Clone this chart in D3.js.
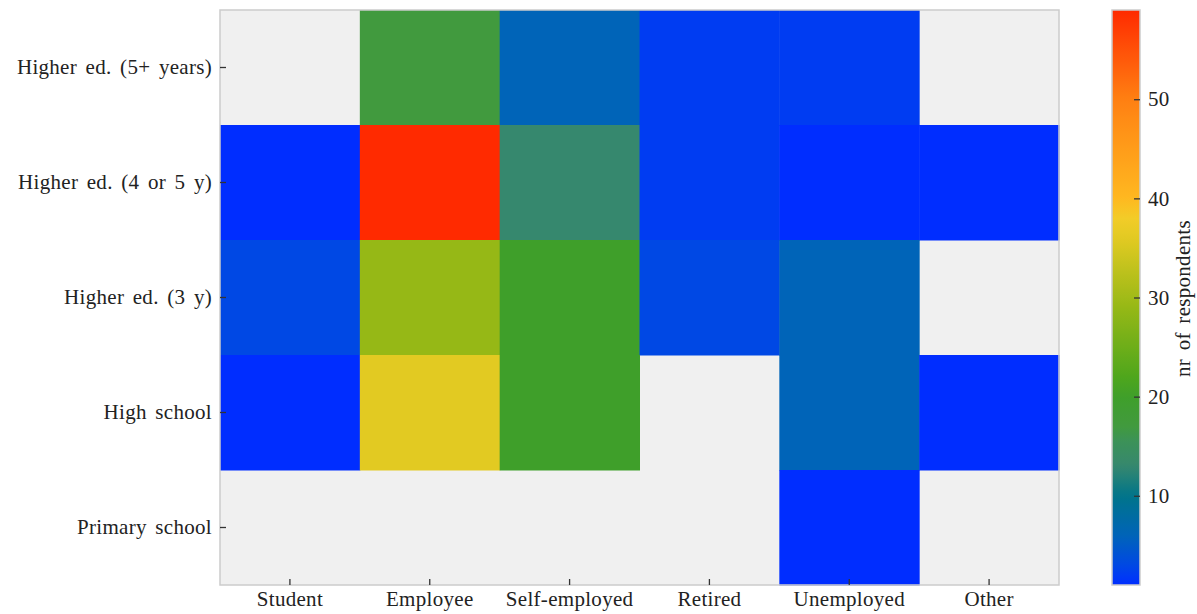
<!DOCTYPE html>
<html>
<head>
<meta charset="utf-8">
<script src="https://cdn.jsdelivr.net/npm/d3@7"></script>
<style>
  html, body { margin: 0; padding: 0; background: #ffffff; }
  svg { display: block; }
  text { font-family: "Liberation Serif", "DejaVu Serif", serif; fill: #222; }
</style>
</head>
<body>
<svg id="chart" width="1197" height="614"></svg>
<script>
// ---- data ----
const occupations = ["Student", "Employee", "Self-employed", "Retired", "Unemployed", "Other"];
const educations = ["Higher ed. (5+ years)", "Higher ed. (4 or 5 y)", "Higher ed. (3 y)", "High school", "Primary school"];
const higherEd5plus = [null, 17, 6, 2, 2, null];
const higherEd4or5  = [1, 59, 13, 2, 1, 1];
const higherEd3     = [3, 29, 20, 3, 6, null];
const highSchool    = [1, 36, 20, null, 6, 1];
const primarySchool = [null, null, null, null, 1, null];
const colorbarTicks = [10, 20, 30, 40, 50];
const colorbarLabel = "nr of respondents";
const valueRange = [1, 59];

const seriesByRow = [higherEd5plus, higherEd4or5, higherEd3, highSchool, primarySchool];
const cells = [];
educations.forEach((edu, i) => {
  occupations.forEach((occ, j) => {
    cells.push({ edu, occ, value: seriesByRow[i][j] });
  });
});

// ---- colormap (style) ----
const cmapStops = [1, 2, 3, 6, 10, 13, 15.5, 17, 20, 22, 29, 36, 38, 40, 50, 59];
const cmapColors = ["#002dff", "#003cf2", "#0048e4", "#0064b8", "#00748a", "#36886e", "#3c9258",
                    "#419a3e", "#3f9f2a", "#4fa61c", "#96b816", "#e2ca22", "#f2cc28", "#ffb820",
                    "#ff8012", "#ff2a00"];
const color = d3.scaleLinear().domain(cmapStops).range(cmapColors).interpolate(d3.interpolateRgb).clamp(true);

// ---- layout ----
const FS = 21;
const svg = d3.select("#chart");
const plot = { left: 220, top: 10, right: 1059, bottom: 585 };
const cbar = { left: 1112, right: 1140, top: 10, bottom: 585 };

const x = d3.scaleBand().domain(occupations).range([plot.left, plot.right]).padding(0);
const y = d3.scaleBand().domain(educations).range([plot.top, plot.bottom]).padding(0);

// background for missing values
svg.append("rect")
  .attr("x", plot.left).attr("y", plot.top)
  .attr("width", plot.right - plot.left).attr("height", plot.bottom - plot.top)
  .attr("fill", "#f0f0f0");

svg.append("g").selectAll("rect")
  .data(cells.filter(d => d.value !== null))
  .join("rect")
  .attr("x", d => x(d.occ))
  .attr("y", d => y(d.edu))
  .attr("width", x.bandwidth() + 0.5)
  .attr("height", y.bandwidth() + 0.5)
  .attr("fill", d => color(d.value));

// frame
svg.append("rect")
  .attr("x", plot.left).attr("y", plot.top)
  .attr("width", plot.right - plot.left).attr("height", plot.bottom - plot.top)
  .attr("fill", "none").attr("stroke", "#cccccc").attr("stroke-width", 1.5);

function styleText(sel) {
  sel.attr("font-size", FS).attr("fill", "#222")
     .style("letter-spacing", "0.3px").style("word-spacing", "3px");
}

// x axis (ticks inward)
const xAxis = svg.append("g")
  .attr("transform", `translate(0,${plot.bottom})`)
  .call(d3.axisBottom(x).tickSize(-6).tickPadding(6));
xAxis.select(".domain").remove();
xAxis.selectAll(".tick line").attr("stroke", "#333").attr("stroke-width", 1.3);
xAxis.selectAll(".tick text").call(styleText);

// y axis (ticks inward)
const yAxis = svg.append("g")
  .attr("transform", `translate(${plot.left},0)`)
  .call(d3.axisLeft(y).tickSize(-6).tickPadding(8));
yAxis.select(".domain").remove();
yAxis.selectAll(".tick line").attr("stroke", "#333").attr("stroke-width", 1.3);
yAxis.selectAll(".tick text").call(styleText);

// ---- colorbar ----
const cy = d3.scaleLinear().domain(valueRange).range([cbar.bottom, cbar.top]);
const defs = svg.append("defs");
const grad = defs.append("linearGradient").attr("id", "cbgrad")
  .attr("x1", 0).attr("y1", 1).attr("x2", 0).attr("y2", 0);
const nStops = 80;
grad.selectAll("stop")
  .data(d3.range(nStops + 1))
  .join("stop")
  .attr("offset", i => i / nStops)
  .attr("stop-color", i => color(valueRange[0] + (valueRange[1] - valueRange[0]) * i / nStops));

svg.append("rect")
  .attr("x", cbar.left).attr("y", cbar.top)
  .attr("width", cbar.right - cbar.left).attr("height", cbar.bottom - cbar.top)
  .attr("fill", "url(#cbgrad)")
  .attr("stroke", "#cccccc").attr("stroke-width", 1.5);

const cAxis = svg.append("g")
  .attr("transform", `translate(${cbar.right},0)`)
  .call(d3.axisRight(cy).tickValues(colorbarTicks).tickSize(-6).tickPadding(8));
cAxis.select(".domain").remove();
cAxis.selectAll(".tick line").attr("stroke", "#333").attr("stroke-width", 1.3);
cAxis.selectAll(".tick text").call(styleText);

svg.append("text")
  .attr("transform", `translate(1190,${(cbar.top + cbar.bottom) / 2 + 1}) rotate(-90)`)
  .attr("text-anchor", "middle")
  .call(styleText)
  .text(colorbarLabel);
</script>
</body>
</html>
